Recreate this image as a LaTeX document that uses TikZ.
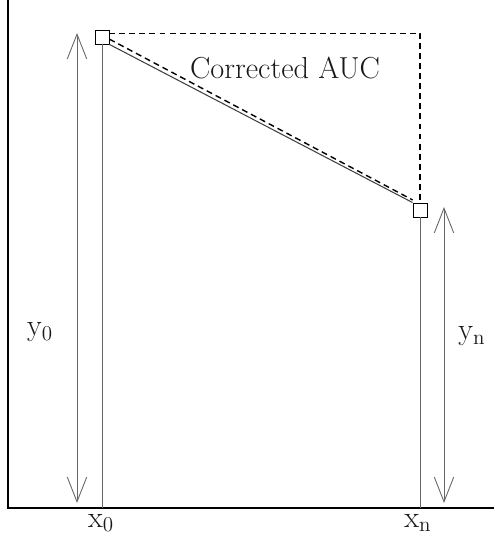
\documentclass[tikz,border=0pt]{standalone}
\usetikzlibrary{arrows.meta}
\tikzset{
  axis/.style={line width=1.4pt},
  guide/.style={draw=black!60, line width=0.5pt},
  span/.style={guide, {Straight Barb[length=14pt,width=11pt]}-{Straight Barb[length=14pt,width=11pt]}},
  pt/.style={draw, fill=white, minimum size=0.28cm, inner sep=0pt, line width=0.5pt},
  corr/.style={dash pattern=on 3.4pt off 2.3pt, line width=0.8pt},
  lbl/.style={font=\LARGE, text=black!90},
}
\begin{document}
\begin{tikzpicture}[x=0.02cm,y=-0.02cm]
  \useasboundingbox (0,0) rectangle (494,537);
  % axes
  \coordinate (top) at (8,0);
  \coordinate (o) at (8,508);
  \coordinate (right) at (494,508);
  \draw[axis] (top) -- (o) -- (right);
  % the two measured points
  \node[pt] (p0) at (102,37) {};
  \node[pt] (pn) at (420,210) {};
  \draw[guide] (p0.south) -- (p0 |- o);
  \draw[guide] (pn.south) -- (pn |- o);
  \draw[draw=black!75, line width=0.6pt] (p0.south east) -- (pn.north west);
  % corrected area
  \coordinate (c0) at ([yshift=2pt]p0.east);
  \coordinate (cn) at (c0 -| pn.north);
  \draw[corr] ([yshift=3pt]p0.south east) -- ([yshift=1.5pt]pn.north west);
  \draw[corr] (c0) -- (cn) -- (pn.north);
  \node[lbl] (auc) at (285,68) {Corrected AUC};
  % heights
  \coordinate (y0top) at (77,33);
  \coordinate (y0bot) at (77,503);
  \coordinate (yntop) at (444,207);
  \coordinate (ynbot) at (444,503);
  \draw[span] (y0top) -- (y0bot);
  \draw[span] (yntop) -- (ynbot);
  \node[lbl] (y0) at (40,332) {$\mathrm{y}_0$};
  \node[lbl] (yn) at (472,336) {$\mathrm{y}_\mathrm{n}$};
  \node[lbl] (x0) at (101,523) {$\mathrm{x}_0$};
  \node[lbl] (xn) at (418,523) {$\mathrm{x}_\mathrm{n}$};
\end{tikzpicture}
\end{document}
